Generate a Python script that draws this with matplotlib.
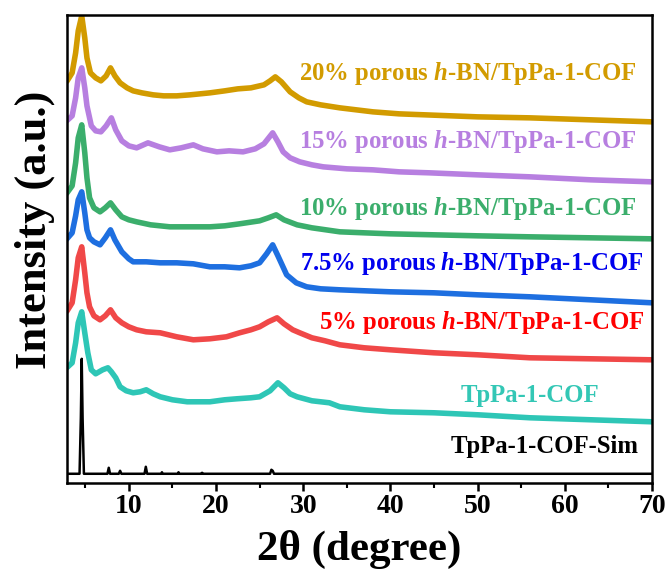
import matplotlib
matplotlib.use("Agg")
import matplotlib.pyplot as plt
from matplotlib.ticker import MultipleLocator

plt.rcParams["font.family"] = ["Liberation Serif", "DejaVu Serif"]
plt.rcParams["font.weight"] = "bold"
plt.rcParams["mathtext.fontset"] = "custom"
plt.rcParams["mathtext.rm"] = "Liberation Serif:bold"
plt.rcParams["mathtext.bfit"] = "Liberation Serif:italic:bold"
plt.rcParams["mathtext.it"] = "Liberation Serif:italic:bold"

# Stacked XRD patterns (intensity with vertical offsets, a.u.)
x_20 = [3.0, 3.5, 3.9, 4.2, 4.6, 4.95, 5.2, 5.6, 6.2, 6.8, 7.4, 7.9, 8.4, 9.0, 9.8, 10.5, 11.5,
        12.8, 14.0, 15.5, 17.0, 19.3, 21.0, 22.5, 24.0, 25.5, 26.2, 26.8, 27.5, 28.5, 29.5, 30.4,
        32.0, 34.2, 38.0, 41.0, 44.0, 50.0, 56.0, 63.0, 70.0]
y_20 = [398, 405, 425, 447, 462, 440, 420, 405, 400, 397, 402, 410, 402, 395, 390, 387, 385,
        383, 382, 382, 383, 385, 387, 389, 390, 393, 397, 401, 396, 386, 380, 376,
        373, 370, 366, 364, 363, 361, 360, 358, 356]

x_15 = [3.0, 3.5, 3.9, 4.2, 4.6, 4.95, 5.2, 5.7, 6.2, 6.8, 7.4, 8.0, 8.5, 9.2, 10.0, 10.9, 12.2,
        13.5, 14.7, 16.0, 17.4, 18.5, 20.1, 21.5, 23.1, 24.5, 25.5, 26.5, 27.1, 27.7, 28.5, 29.6,
        31.0, 32.3, 35.0, 38.0, 41.0, 44.5, 50.0, 56.0, 63.0, 70.0]
y_15 = [358, 362, 380, 400, 410, 390, 372, 352, 347, 346, 352, 360, 348, 337, 332, 330, 335,
        331, 328, 330, 333, 329, 326, 327, 326, 329, 334, 345, 336, 326, 320, 316,
        313, 311, 309, 308, 306, 305, 303, 301, 298, 296]

x_10 = [3.0, 3.5, 3.9, 4.2, 4.6, 4.95, 5.2, 5.5, 6.0, 6.7, 7.3, 7.9, 8.5, 9.2, 10.0, 10.9, 12.5,
        14.7, 17.0, 19.3, 21.0, 22.7, 25.0, 26.0, 26.9, 27.8, 29.3, 31.0, 34.2, 37.0, 40.0, 45.0,
        50.0, 56.0, 63.0, 70.0]
y_10 = [286, 292, 315, 340, 353, 325, 300, 280, 270, 266, 270, 275, 268, 261, 258, 256, 253,
        251, 251, 251, 252, 254, 257, 260, 263, 258, 253, 250, 246, 245, 244, 243,
        242, 241, 240, 239]

x_75 = [3.0, 3.5, 3.9, 4.2, 4.6, 4.95, 5.2, 5.5, 6.0, 6.7, 7.3, 7.9, 8.4, 9.2, 10.0, 10.5, 12.0,
        13.6, 15.5, 17.4, 19.3, 21.0, 22.7, 24.0, 25.0, 25.8, 26.5, 27.1, 28.1, 29.2, 30.4, 32.0,
        34.2, 40.0, 45.0, 50.0, 56.0, 63.0, 70.0]
y_75 = [240, 245, 262, 278, 286, 265, 248, 240, 236, 233, 240, 248, 238, 226, 219, 216, 216,
        215, 215, 214, 211, 211, 210, 212, 215, 224, 233, 222, 203, 195, 191, 189,
        188, 186, 185, 183, 181, 178, 175]

x_5 = [3.0, 3.5, 3.9, 4.2, 4.6, 4.95, 5.2, 5.5, 6.0, 6.7, 7.3, 7.9, 8.5, 9.2, 10.0, 10.9, 12.0,
       13.6, 15.5, 17.4, 19.3, 21.2, 22.7, 24.0, 25.0, 26.0, 27.0, 27.8, 28.8, 29.6, 31.0, 32.5,
       34.2, 37.0, 40.0, 45.0, 50.0, 56.0, 63.0, 70.0]
y_5 = [168, 175, 198, 220, 231, 205, 185, 171, 162, 158, 162, 168, 160, 155, 151, 148, 146,
       145, 141, 138, 139, 141, 145, 148, 151, 156, 160, 154, 148, 145, 140, 137,
       133, 130, 128, 125, 123, 120, 119, 118]

x_cof = [3.0, 3.5, 3.9, 4.2, 4.6, 4.95, 5.3, 5.7, 6.2, 7.0, 7.6, 8.0, 8.5, 9.0, 9.7, 10.5, 11.3,
         12.0, 12.8, 13.6, 15.0, 16.7, 18.0, 19.3, 21.0, 22.4, 24.0, 25.0, 26.2, 27.1, 27.8, 28.5,
         29.3, 31.0, 33.0, 34.2, 37.0, 40.0, 45.0, 50.0, 56.0, 63.0, 70.0]
y_cof = [111, 115, 135, 155, 166, 145, 125, 108, 104, 108, 110, 106, 100, 91, 87, 85, 86,
         88, 84, 81, 78, 76, 76, 76, 78, 79, 80, 81, 87, 95, 90, 84,
         81, 77, 75, 71, 68, 66, 65, 63, 60, 58, 56]

x_sim = [3.0, 4.35, 4.5, 4.6, 4.7, 4.85, 7.55, 7.7, 7.85, 8.85, 9.0, 9.15, 11.8, 11.95, 12.1,
         13.7, 13.8, 13.9, 15.6, 15.7, 15.8, 18.3, 18.4, 18.5, 26.2, 26.35, 26.5, 26.65, 70.0]
y_sim = [4, 4, 60, 119, 60, 4, 4, 10, 4, 4, 7, 4, 4, 11, 4,
         4, 5.5, 4, 4, 5.5, 4, 4, 5, 4, 4, 8, 7, 4, 4]

series = [
    (x_20, y_20, "#D29B00"),
    (x_15, y_15, "#B77FE0"),
    (x_10, y_10, "#3BAE6C"),
    (x_75, y_75, "#1E6FE0"),
    (x_5, y_5, "#F04848"),
    (x_cof, y_cof, "#2EC6B6"),
]

labels = [
    (r"20% porous $\mathbfit{h}$-BN/TpPa-1-COF", 68.3, 404, "#D29B00"),
    (r"15% porous $\mathbfit{h}$-BN/TpPa-1-COF", 68.3, 336, "#B77FE0"),
    (r"10% porous $\mathbfit{h}$-BN/TpPa-1-COF", 68.3, 269, "#3BAE6C"),
    (r"7.5% porous $\mathbfit{h}$-BN/TpPa-1-COF", 69.1, 214, "#0000EE"),
    (r"5% porous $\mathbfit{h}$-BN/TpPa-1-COF", 69.1, 155, "#FF0000"),
    ("TpPa-1-COF", 63.9, 82, "#33C7B5"),
    ("TpPa-1-COF-Sim", 68.5, 31, "#000000"),
]

fig = plt.figure(figsize=(6.69, 5.72), dpi=100)
ax = fig.add_axes([0.100, 0.156, 0.8746, 0.818])

for xs, ys, c in series:
    ax.plot(xs, ys, color=c, lw=4.0, solid_joinstyle="round")
ax.plot(x_sim, y_sim, color="black", lw=1.8)

for text, tx, ty, c in labels:
    ax.text(tx, ty, text, color=c, fontsize=17.8, fontweight="bold",
            ha="right", va="center")

ax.set_xlim(2.9, 70)
ax.set_ylim(-5, 463)
ax.set_yticks([])
ax.xaxis.set_major_locator(MultipleLocator(10))
ax.xaxis.set_minor_locator(MultipleLocator(5))
ax.tick_params(axis="x", which="major", direction="out", length=6, width=1.8,
               labelsize=20, pad=2)
ax.tick_params(axis="x", which="minor", direction="out", length=3.5, width=1.5)
for lab in ax.get_xticklabels():
    lab.set_fontweight("bold")
for sp in ax.spines.values():
    sp.set_linewidth(1.8)

ax.set_xlabel("2θ (degree)", fontsize=31, fontweight="bold", labelpad=8)
ax.set_ylabel("Intensity (a.u.)", fontsize=32, fontweight="bold")
ax.yaxis.set_label_coords(-0.021, 0.54)

fig.savefig("out.png", dpi=100)
